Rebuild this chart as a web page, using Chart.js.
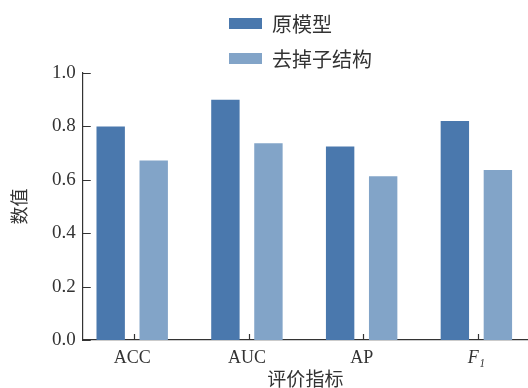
<!DOCTYPE html>
<html>
<head>
<meta charset="utf-8">
<script src="https://cdn.jsdelivr.net/npm/chart.js@4"></script>
<style>
  html, body { margin: 0; padding: 0; background: #fff; overflow: hidden; }
  #wrap { width: 528px; height: 388px; }
</style>
</head>
<body>
<div id="wrap"><canvas id="barChart"></canvas></div>
<script>
const categories = ['ACC', 'AUC', 'AP', 'F\u2081'];
const seriesNames = ['原模型', '去掉子结构'];
const originalModel = [0.80, 0.90, 0.725, 0.82];
const withoutSubstructure = [0.672, 0.737, 0.613, 0.637];
const yTicks = [0, 0.2, 0.4, 0.6, 0.8, 1.0];

const colors = ['#4a78ad', '#82a4c8'];
const axisColor = '#333';
const serif = "'Liberation Serif', 'DejaVu Serif', serif";
const cjk = "'Noto Sans CJK SC', sans-serif";

// inward tick marks + stacked legend in the top middle
const decor = {
  id: 'decor',
  afterDraw(chart) {
    const ctx = chart.ctx;
    const area = chart.chartArea;
    const x = chart.scales.x, y = chart.scales.y;
    ctx.save();
    ctx.strokeStyle = axisColor;
    ctx.lineWidth = 1.2;
    ctx.beginPath();
    yTicks.forEach(v => {
      const py = Math.round(y.getPixelForValue(v)) + 0.5;
      ctx.moveTo(area.left, py);
      ctx.lineTo(area.left + 8, py);
    });
    categories.forEach((c, i) => {
      const px = Math.round(x.getPixelForValue(i + 0.015)) + 0.5;
      ctx.moveTo(px, area.bottom);
      ctx.lineTo(px, area.bottom - 6);
    });
    ctx.stroke();

    ctx.font = '20px ' + cjk;
    ctx.textBaseline = 'middle';
    chart.data.datasets.forEach((ds, i) => {
      const top = 18 + i * 35;
      ctx.fillStyle = ds.backgroundColor;
      ctx.fillRect(229, top, 33, 11);
      ctx.fillStyle = axisColor;
      ctx.fillText(ds.label, 272, top + 6);
    });
    ctx.restore();
  }
};

new Chart(document.getElementById('barChart'), {
  type: 'bar',
  data: {
    datasets: [
      {
        label: seriesNames[0],
        data: originalModel.map((v, i) => ({ x: i, y: v })),
        backgroundColor: colors[0]
      },
      {
        label: seriesNames[1],
        data: withoutSubstructure.map((v, i) => ({ x: i, y: v })),
        backgroundColor: colors[1]
      }
    ]
  },
  options: {
    responsive: true,
    maintainAspectRatio: false,
    animation: false,
    categoryPercentage: 0.75,
    barPercentage: 0.66,
    layout: { padding: { top: 73, left: 10, right: 0, bottom: 0 } },
    plugins: {
      legend: { display: false },
      tooltip: { enabled: false }
    },
    scales: {
      x: {
        type: 'linear',
        bounds: 'data',
        offset: false,
        min: -0.431,
        max: 3.45,
        afterBuildTicks: scale => {
          scale.ticks = categories.map((c, i) => ({ value: i }));
        },
        grid: { display: false, drawTicks: false, tickLength: 0 },
        border: { display: true, color: axisColor, width: 1.2 },
        ticks: {
          padding: 12,
          color: axisColor,
          callback: v => categories[v],
          font: ctx => ({
            family: serif,
            size: 18,
            style: ctx.tick && ctx.tick.value === 3 ? 'italic' : 'normal',
            lineHeight: 0.72
          })
        },
        title: {
          display: true,
          text: '评价指标',
          color: axisColor,
          font: { family: cjk, size: 19, lineHeight: 0.16 },
          padding: { top: 0, bottom: 8 }
        }
      },
      y: {
        min: 0,
        max: 1,
        afterBuildTicks: scale => {
          scale.ticks = yTicks.map(v => ({ value: v }));
        },
        grid: { display: false, drawTicks: false, tickLength: 0 },
        border: { display: true, color: axisColor, width: 1.2 },
        ticks: {
          padding: 7,
          color: axisColor,
          callback: v => v.toFixed(1),
          font: { family: serif, size: 19 }
        },
        title: {
          display: true,
          text: '数值',
          color: axisColor,
          font: { family: cjk, size: 18, lineHeight: 1.0 },
          padding: { top: 0, bottom: 17 }
        }
      }
    }
  },
  plugins: [decor]
});
</script>
</body>
</html>
